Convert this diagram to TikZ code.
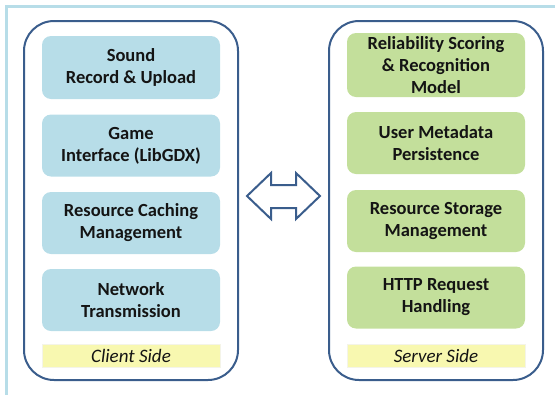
\documentclass[tikz,border=0pt]{standalone}
\usepackage{fontspec}
\setmainfont{Carlito}
\definecolor{boxblue}{HTML}{B7DDE8}
\definecolor{boxgreen}{HTML}{C3DF9B}
\definecolor{labyellow}{HTML}{F8F8B0}
\definecolor{edgeblue}{HTML}{3A5D8C}
\definecolor{framecol}{HTML}{B7DDE8}
\definecolor{txt}{HTML}{141414}
\tikzset{
  container/.style={draw=edgeblue, line width=2pt, rounded corners=30pt, minimum width=214pt, minimum height=359pt, inner sep=0pt},
  modbox/.style={rounded corners=9pt, minimum width=178pt, minimum height=62pt, inner sep=0pt, align=center, text=txt,
     font=\fontsize{18.5}{22}\selectfont\bfseries},
  clientbox/.style={modbox, fill=boxblue},
  serverbox/.style={modbox, fill=boxgreen},
  sidelabel/.style={fill=labyellow, draw=labyellow!80!black!20, line width=0.3pt, minimum width=178pt, minimum height=23pt, inner sep=0pt, text=txt,
     font=\fontsize{19}{22}\selectfont\itshape},
  bigarrow/.style={draw=edgeblue, line width=2pt, fill=white, line join=miter},
  frameline/.style={draw=framecol, line width=3pt}
}
\begin{document}
\begin{tikzpicture}[x=1pt,y=-1pt]
\useasboundingbox (0,0) rectangle (555,397);
\draw[frameline] (5,6) -- (555,6);
\draw[frameline] (6,5) -- (6,395);
% containers
\node[container] (client) at (131,200.5) {};
\node[container] (server) at (436,200.5) {};
% client modules
\node[clientbox, minimum height=63pt] (c1) at (131,67.5) {Sound\\Record \& Upload};
\node[clientbox] (c2) at (131,145.5) {Game\\Interface (LibGDX)};
\node[clientbox] (c3) at (131,223) {Resource Caching\\Management};
\node[clientbox] (c4) at (131,300) {Network\\Transmission};
\node[sidelabel] (cl) at (131,355.5) {Client Side};
% server modules
\node[serverbox, minimum height=64pt] (s1) at (436,65) {Reliability Scoring\\\& Recognition\\Model};
\node[serverbox] (s2) at (436,143) {User Metadata\\Persistence};
\node[serverbox] (s3) at (436,221) {Resource Storage\\Management};
\node[serverbox] (s4) at (436,297.5) {HTTP Request\\Handling};
\node[sidelabel] (sl) at (436,355.5) {Server Side};
% double arrow
\draw[bigarrow] (247,196) -- (271,173) -- (271,185) -- (296,185) -- (296,173) -- (320,196)
  -- (296,219) -- (296,208) -- (271,208) -- (271,219) -- cycle;
\end{tikzpicture}
\end{document}
